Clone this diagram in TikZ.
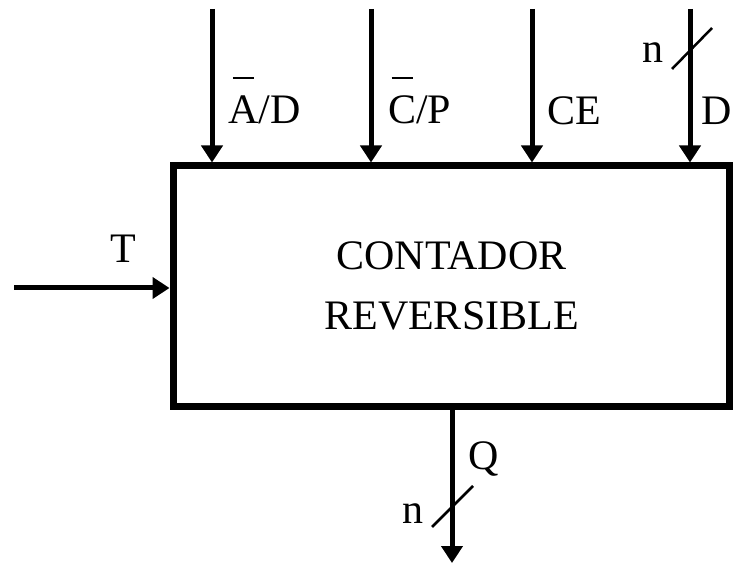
\documentclass[tikz,border=0pt]{standalone}
\usepackage{fontspec}
\setmainfont{Liberation Serif}
\usetikzlibrary{arrows.meta,positioning}
\newcommand{\negado}[1]{\setbox0\hbox{#1}\rlap{\hbox to\wd0{\hss\rule[1.07em]{0.5em}{0.05em}\hss}}#1}

\begin{document}
\begin{tikzpicture}[
      x=1pt,y=1pt,
      font=\fontsize{42}{60}\selectfont,
      bloque/.style={draw,line width=7pt,minimum width=556pt,minimum height=241pt,align=center,inner sep=0pt},
      arr/.style={-{Triangle[length=17pt,width=21pt]},line width=5pt},
      barra/.style={line width=2.5pt},
      etiq/.style={anchor=base west,inner sep=0pt}
    ]
      \useasboundingbox (0,0) rectangle (733,565);
      \node[bloque] (cont) at (451,278.5) {};
      \node[etiq,anchor=base] (t1) at (451.5,295) {CONTADOR};
      \node[etiq,anchor=base] (t2) at (451.5,235) {REVERSIBLE};
      % entradas superiores
      \coordinate (inAD) at (212,556);
      \coordinate (inCP) at (371,556);
      \coordinate (inCE) at (532,556);
      \coordinate (inD) at (690,556);
      \draw[arr] (inAD) -- (inAD |- cont.north);
      \draw[arr] (inCP) -- (inCP |- cont.north);
      \draw[arr] (inCE) -- (inCE |- cont.north);
      \draw[arr] (inD) -- (inD |- cont.north);
      \node[etiq] (lAD) at (228,441) {\negado{A}/D};
      \node[etiq] (lCP) at (388,441) {\negado{C}/P};
      \node[etiq] (lCE) at (547,440) {CE};
      \node[etiq] (lD) at (701,440) {D};
      \coordinate (sD1) at (672,496);
      \coordinate (sD2) at (712,537);
      \draw[barra] (sD1) -- (sD2);
      \node[etiq] (nD) at (642,502) {n};
      % reloj
      \coordinate (inT) at (14,277);
      \draw[arr] (inT) -- (inT -| cont.west);
      \node[etiq] (lT) at (110,302) {T};
      % salida
      \coordinate (outQ) at (452,2);
      \draw[arr] (outQ |- cont.south) -- (outQ);
      \node[etiq] (lQ) at (468,96) {Q};
      \coordinate (sQ1) at (432,38);
      \coordinate (sQ2) at (473,79);
      \draw[barra] (sQ1) -- (sQ2);
      \node[etiq] (nQ) at (402,42) {n};
    \end{tikzpicture}
\end{document}
